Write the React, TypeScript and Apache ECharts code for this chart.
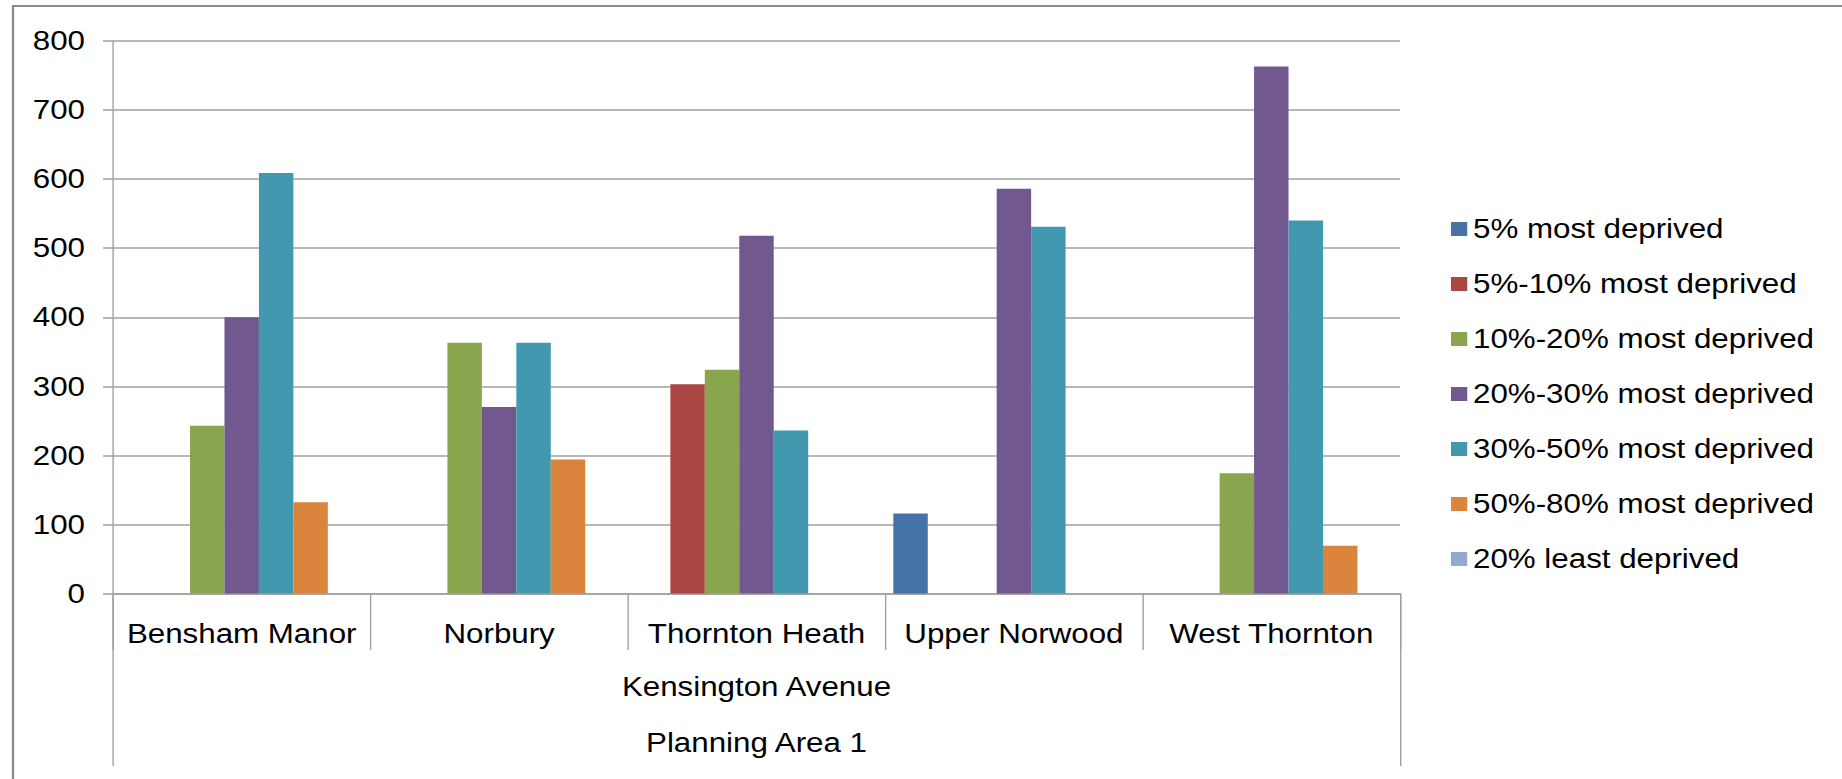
import React, { useEffect, useRef } from "react";
import * as echarts from "echarts";

// ---- data ----
const categories = ["Bensham Manor", "Norbury", "Thornton Heath", "Upper Norwood", "West Thornton"];
const level2Labels = ["Kensington Avenue"];
const level3Labels = ["Planning Area 1"];

const seriesNames = [
  "5% most deprived",
  "5%-10% most deprived",
  "10%-20% most deprived",
  "20%-30% most deprived",
  "30%-50% most deprived",
  "50%-80% most deprived",
  "20% least deprived",
];

const most5 = [null, null, null, 116, null];
const most5to10 = [null, null, 303, null, null];
const most10to20 = [243, 363, 324, null, 174];
const most20to30 = [400, 270, 518, 586, 763];
const most30to50 = [609, 363, 236, 531, 540];
const most50to80 = [132, 194, null, null, 69];
const least20 = [null, null, null, null, null];

const seriesValues = [most5, most5to10, most10to20, most20to30, most30to50, most50to80, least20];
const seriesColors = ["#4572A7", "#AA4643", "#89A54E", "#71588F", "#4198AF", "#DB843D", "#93A9CF"];

const yMin = 0;
const yMax = 800;
const yStep = 100;

// ---- layout (reference pixels; chart is stretched horizontally by S) ----
const S = 1.16;
const W0 = 1588;
const H0 = 779;
const fx = (x: number) => x / S;
const FONT = "'Liberation Sans', Arial, sans-serif";
const GRAY = "#a0a0a0";

export default function App() {
  const ref = useRef<HTMLDivElement>(null);

  useEffect(() => {
    if (!ref.current) return;
    const chart = echarts.init(ref.current, undefined, { renderer: "svg" });

    const plotLeft = fx(113);
    const plotRight = fx(1400);
    const plotTop = 41;
    const plotBottom = 593.5;

    const option: any = {
      animation: false,
      backgroundColor: "#ffffff",
      textStyle: { fontFamily: FONT },
      grid: {
        left: plotLeft,
        right: W0 - plotRight,
        top: plotTop,
        bottom: H0 - plotBottom,
      },
      legend: {
        orient: "vertical",
        left: fx(1451),
        top: 215,
        padding: 0,
        itemWidth: 14,
        itemHeight: 14,
        itemGap: 27,
        icon: "rect",
        selectedMode: false,
        textStyle: { fontSize: 27, lineHeight: 28, color: "#000", fontFamily: FONT },
        data: seriesNames,
      },
      xAxis: [
        {
          type: "category",
          data: categories,
          position: "bottom",
          axisLine: { show: true, lineStyle: { color: GRAY, width: 1.5 } },
          axisTick: { show: true, interval: 0, length: 650 - plotBottom, lineStyle: { color: GRAY, width: 1.2 } },
          axisLabel: {
            interval: 0,
            margin: 26.5,
            fontSize: 27,
            lineHeight: 28,
            color: "#000",
            fontFamily: FONT,
          },
          splitLine: { show: false },
        },
        {
          type: "category",
          data: level2Labels,
          position: "bottom",
          axisLine: { show: false },
          axisTick: { show: false },
          axisLabel: { margin: 79.5, fontSize: 27, lineHeight: 28, color: "#000", fontFamily: FONT },
          splitLine: { show: false },
        },
        {
          type: "category",
          data: level3Labels,
          position: "bottom",
          axisLine: { show: false },
          axisTick: { show: true, interval: 0, length: 766 - plotBottom, lineStyle: { color: GRAY, width: 1.2 } },
          axisLabel: { margin: 135.5, fontSize: 27, lineHeight: 28, color: "#000", fontFamily: FONT },
          splitLine: { show: false },
        },
      ],
      yAxis: {
        type: "value",
        min: yMin,
        max: yMax,
        interval: yStep,
        axisLine: { show: true, lineStyle: { color: GRAY, width: 1.2 } },
        axisTick: { show: true, length: fx(10), lineStyle: { color: GRAY, width: 1.5 } },
        axisLabel: { margin: fx(113 - 85), fontSize: 27, color: "#000", fontFamily: FONT },
        splitLine: { show: true, lineStyle: { color: GRAY, width: 1.5 } },
      },
      series: seriesNames.map((name, i) => ({
        name,
        type: "bar",
        xAxisIndex: 0,
        data: seriesValues[i],
        barGap: "0%",
        barCategoryGap: "6.3%",
        itemStyle: { color: seriesColors[i] },
      })),
      graphic: [
        {
          type: "polyline",
          silent: true,
          shape: { points: [[fx(13), H0 + 2], [fx(13), 6], [W0 + 2, 6]] },
          style: { stroke: "#8a8a8a", lineWidth: 2, fill: null },
        },
      ],
    };

    chart.setOption(option);
    return () => chart.dispose();
  }, []);

  return (
    <div
      ref={ref}
      style={{
        position: "fixed",
        left: 0,
        top: 0,
        width: W0,
        height: H0,
        transform: `scaleX(${S})`,
        transformOrigin: "0 0",
        background: "#fff",
      }}
    />
  );
}
